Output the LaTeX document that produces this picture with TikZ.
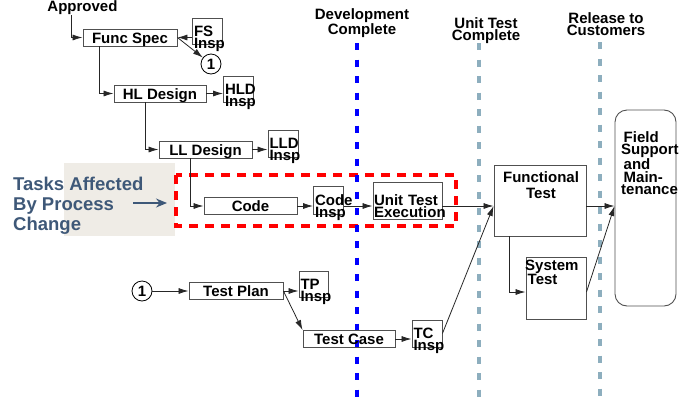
\documentclass[tikz,border=0pt]{standalone}
\usepackage{fontspec}
\setmainfont{Liberation Sans}
\usepackage{xcolor}
\usetikzlibrary{arrows.meta,positioning,calc}
\definecolor{edgegray}{HTML}{505050}
\definecolor{milegray}{HTML}{8DAEBE}
\definecolor{noteblue}{HTML}{3E5878}
\definecolor{notebg}{HTML}{EFECE6}
\newcommand{\boxfont}{\fontsize{15}{12}\selectfont\bfseries}

\begin{document}
\begin{tikzpicture}[x=1pt, y=-1pt,
    >={Latex[length=10pt,width=6pt]},
    every node/.style={font=\boxfont, text=black},
    task/.style={draw=edgegray, line width=0.9pt, inner sep=1pt, minimum height=17pt, text height=11pt, text depth=0pt},
    insp/.style={draw=edgegray, line width=0.9pt, inner sep=1.5pt, text width=27pt, align=left, minimum height=27pt, text depth=0pt},
    refmark/.style={draw, circle, line width=0.8pt, minimum size=20pt, inner sep=0pt},
    conn/.style={->, draw=black!85, line width=0.8pt},
    mile/.style={line width=4pt, dash pattern=on 7pt off 9.5pt},
    heading/.style={align=center, text depth=0pt, font=\fontsize{15}{12.5}\selectfont\bfseries}]
    \useasboundingbox (0,0) rectangle (679,402);
    \clip (0,0) rectangle (679,402);

    % Milestones
    \draw[mile, milegray] (479,43) -- (479,402);
    \draw[mile, milegray] (600,42) -- (600,402);
    \fill[notebg] (64,163) rectangle (175,236);
    \draw[red, line width=3.5pt, dash pattern=on 9pt off 7pt] (176,175) rectangle (456,226);
    \draw[mile, blue] (357,43) -- (357,402);

    \node[heading] (devc) at (362,21.5) {Development\\Complete};
    \node[heading] (utc) at (486,29) {Unit Test\\Complete};
    \node[heading] (rel) at (606,24) {Release to\\Customers};

    % Design chain
    \node[text depth=0pt] (appr) at (82.5,6.5) {Approved};
    \node[task, minimum width=94pt] (fs) at (130,37.5) {Func Spec};
    \node[insp, minimum height=26pt] (fsi) at (207.5,31) {FS\\Insp};
    \node[refmark] (c1) at (211,64) {1};
    \node[task, minimum width=92pt] (hl) at (160,93.5) {HL Design};
    \node[insp, minimum height=26pt] (hli) at (238.5,89) {HLD\\Insp};
    \node[task, minimum width=93pt] (ll) at (205.5,149.5) {LL Design};
    \node[insp] (lli) at (283,143.5) {LLD\\Insp};
    \node[task, minimum width=93pt] (code) at (250.5,206) {Code};
    \node[insp, minimum height=28pt] (cdi) at (328.5,200) {Code\\Insp};
    \node[draw=edgegray, line width=0.9pt, inner sep=1pt, text width=67pt, align=left, minimum height=37pt, text depth=0pt] (ute) at (407.5,200.5) {Unit Test\\Execution};

    \draw[conn] ([xshift=-11.5pt]appr.south) |- (fs.west);
    \draw[conn] (fs.east -| fsi.west) -- (fs.east);
    \draw[conn] (fs.east) -- (c1);
    \draw[conn] ([xshift=17pt]fs.south west) |- (hl.west);
    \draw[conn] (hl.east) -- (hl.east -| hli.west);
    \draw[conn] ([xshift=32pt]hl.south west) |- (ll.west);
    \draw[conn] (ll.east) -- (ll.east -| lli.west);
    \draw[conn] ([xshift=32pt]ll.south west) |- (code.west);
    \draw[conn] (code.east) -- (code.east -| cdi.west);
    \draw[conn] (code.east -| cdi.east) -- (code.east -| ute.west);

    % Test chain
    \node[refmark] (c2) at (142,291) {1};
    \node[task, minimum width=94pt] (tp) at (236,291) {Test Plan};
    \node[insp, minimum width=29pt, text width=26pt, minimum height=26pt] (tpi) at (313.5,284) {TP\\Insp};
    \node[task, minimum width=92pt] (tc) at (349,339) {Test Case};
    \node[insp] (tci) at (427,333.5) {TC\\Insp};

    \draw[conn] (c2) -- (tp.west);
    \draw[conn] (tp.east) -- (tp.east -| tpi.west);
    \draw[conn] (tp.east) -- (tc.north west);
    \draw[conn] (tc.east) -- (tc.east -| tci.west);

    % System level
    \node[draw=edgegray, line width=0.9pt, minimum width=92pt, minimum height=71pt] (ft) at (540,200.5) {};
    \node[align=center, text depth=0pt, font=\fontsize{15}{16}\selectfont\bfseries] (ftt) at (541,185.5) {Functional\\Test};
    \node[draw=edgegray, line width=0.9pt, minimum width=60pt, minimum height=62pt] (st) at (556,288) {};
    \node[anchor=west, align=left, inner sep=0pt, text depth=0pt, font=\fontsize{15}{11.5}\selectfont\bfseries] (stt) at (525,272.5) {System\\\,Test};
    \node[draw=edgegray, line width=0.9pt, rounded corners=12pt, minimum width=61pt, minimum height=196pt] (fld) at (645.5,208) {};
    \node[anchor=west, align=left, inner sep=0pt, text depth=0pt, font=\fontsize{15}{12.5}\selectfont\bfseries] (fldt) at (621,163) {\,Field\\Support\\\,and\\\,Main-\\tenance};

    \draw[conn] (code.east -| ute.east) -- (code.east -| ft.west);
    \draw[conn] (tci.east) -- (code.east -| ft.west);
    \draw[conn] ([xshift=16pt]ft.south west) |- ([yshift=-4pt]st.west);
    \draw[conn] (code.east -| ft.east) -- (code.east -| fld.west);
    \draw[conn] ([yshift=-4pt]st.east) -- (code.east -| fld.west);

    % Process change note
    \node[anchor=west, align=left, inner sep=0pt, text depth=0pt, text=noteblue, font=\fontsize{18.5}{20}\selectfont\bfseries] (note) at (13,204) {Tasks Affected\\By Process\\Change};
    \coordinate (notefrom) at (133,203);
    \coordinate (noteto) at (167,203);
    \draw[-{Stealth[length=11pt,width=9pt]}, noteblue, line width=1.3pt] (notefrom) -- (noteto);
\end{tikzpicture}
\end{document}
